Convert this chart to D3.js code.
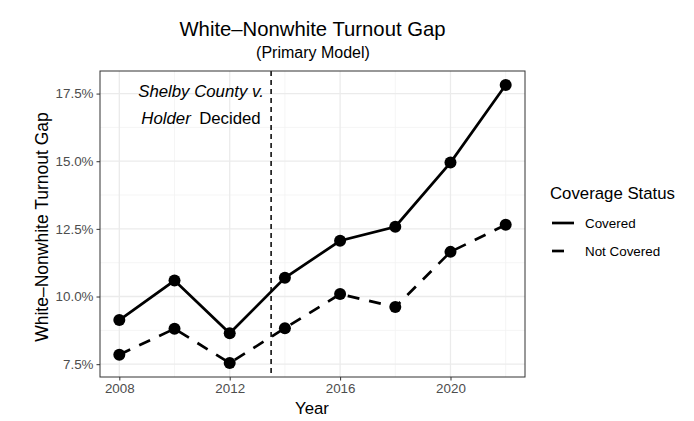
<!DOCTYPE html>
<html><head><meta charset="utf-8">
<script src="https://cdn.jsdelivr.net/npm/d3@7"></script>
<style>body{margin:0;background:#fff}svg{display:block;font-family:"Liberation Sans",Arial,sans-serif}</style>
</head><body>
<script>
const years = [2008, 2010, 2012, 2014, 2016, 2018, 2020, 2022];
const covered = [9.13, 10.59, 8.64, 10.69, 12.06, 12.58, 14.95, 17.82];
const notCovered = [7.85, 8.81, 7.54, 8.83, 10.09, 9.61, 11.65, 12.65];
const seriesNames = ["Covered", "Not Covered"];
const xTicks = [2008, 2012, 2016, 2020];
const xMinor = [2010, 2014, 2018, 2022];
const yTicks = [7.5, 10.0, 12.5, 15.0, 17.5];
const yMinor = [8.75, 11.25, 13.75, 16.25];
const shelbyYear = 2013.5;

const W = 694, H = 421;
const L = 100, R = 525, T = 71, B = 377;
const svg = d3.select("body").append("svg").attr("width", W).attr("height", H);

const xr = d3.extent(years), xpad = (xr[1]-xr[0])*0.05;
const x = d3.scaleLinear().domain([xr[0]-xpad, xr[1]+xpad]).range([L, R]);
const all = covered.concat(notCovered);
const yr = d3.extent(all), ypad = (yr[1]-yr[0])*0.05;
const y = d3.scaleLinear().domain([yr[0]-ypad, yr[1]+ypad]).range([B, T]);

// grid
const g = svg.append("g");
xMinor.forEach(v => g.append("line").attr("x1", x(v)).attr("x2", x(v)).attr("y1", T).attr("y2", B).attr("stroke", "#F2F2F2").attr("stroke-width", 0.8));
yMinor.forEach(v => g.append("line").attr("x1", L).attr("x2", R).attr("y1", y(v)).attr("y2", y(v)).attr("stroke", "#F2F2F2").attr("stroke-width", 0.8));
xTicks.forEach(v => g.append("line").attr("x1", x(v)).attr("x2", x(v)).attr("y1", T).attr("y2", B).attr("stroke", "#EBEBEB").attr("stroke-width", 1.3));
yTicks.forEach(v => g.append("line").attr("x1", L).attr("x2", R).attr("y1", y(v)).attr("y2", y(v)).attr("stroke", "#EBEBEB").attr("stroke-width", 1.3));

// vertical dashed line
svg.append("line").attr("x1", x(shelbyYear)).attr("x2", x(shelbyYear)).attr("y1", T).attr("y2", B)
  .attr("stroke", "#000").attr("stroke-width", 1.5).attr("stroke-dasharray", "5,4");

// annotation
const ann = svg.append("g").attr("font-size", 16.8).attr("fill", "#000").attr("text-anchor", "middle");
ann.append("text").attr("x", 201).attr("y", 97).attr("font-style", "italic").text("Shelby County v.");
const t2 = ann.append("text").attr("x", 201).attr("y", 124);
t2.append("tspan").attr("font-style", "italic").text("Holder");
t2.append("tspan").text("\u2002Decided");

// lines
const line = d3.line().x((d, i) => x(years[i])).y(d => y(d));
const data = [covered, notCovered];
const dashes = [null, "12,10"];
data.forEach((s, k) => {
  svg.append("path").attr("d", line(s)).attr("fill", "none").attr("stroke", "#000")
    .attr("stroke-width", 2.7).attr("stroke-dasharray", dashes[k]);
  svg.selectAll(null).data(s).enter().append("circle")
    .attr("cx", (d, i) => x(years[i])).attr("cy", d => y(d)).attr("r", 6).attr("fill", "#000");
});

// panel border
svg.append("rect").attr("x", L).attr("y", T).attr("width", R-L).attr("height", B-T)
  .attr("fill", "none").attr("stroke", "#333333").attr("stroke-width", 1);

// axes
const xa = svg.append("g").attr("transform", `translate(0,${B})`)
  .call(d3.axisBottom(x).tickValues(xTicks).tickFormat(d3.format("d")).tickSize(3.5).tickPadding(3));
const ya = svg.append("g").attr("transform", `translate(${L},0)`)
  .call(d3.axisLeft(y).tickValues(yTicks).tickFormat(d => d.toFixed(1) + "%").tickSize(3.5).tickPadding(3));
[xa, ya].forEach(a => {
  a.select(".domain").remove();
  a.selectAll(".tick line").attr("stroke", "#333333").attr("stroke-width", 1);
  a.selectAll(".tick text").attr("fill", "#4D4D4D").attr("font-size", 13.4).attr("font-family", "Liberation Sans, Arial, sans-serif");
});

// titles
svg.append("text").attr("x", 312.5).attr("y", 36).attr("text-anchor", "middle").attr("font-size", 20.3).text("White\u2013Nonwhite Turnout Gap");
svg.append("text").attr("x", 313).attr("y", 58).attr("text-anchor", "middle").attr("font-size", 16).text("(Primary Model)");
svg.append("text").attr("x", 312).attr("y", 414).attr("text-anchor", "middle").attr("font-size", 16.8).text("Year");
svg.append("text").attr("transform", `translate(48,227) rotate(-90)`).attr("text-anchor", "middle").attr("font-size", 17.5).text("White\u2013Nonwhite Turnout Gap");

// legend
const lg = svg.append("g");
lg.append("text").attr("x", 550).attr("y", 199).attr("font-size", 16.8).text("Coverage Status");
seriesNames.forEach((n, k) => {
  const yy = 223 + k*28;
  lg.append("line").attr("x1", 552).attr("x2", 574).attr("y1", yy).attr("y2", yy)
    .attr("stroke", "#000").attr("stroke-width", 2.7).attr("stroke-dasharray", dashes[k]);
  lg.append("text").attr("x", 585).attr("y", yy + 5).attr("font-size", 13.4).text(n);
});
</script>
</body></html>
